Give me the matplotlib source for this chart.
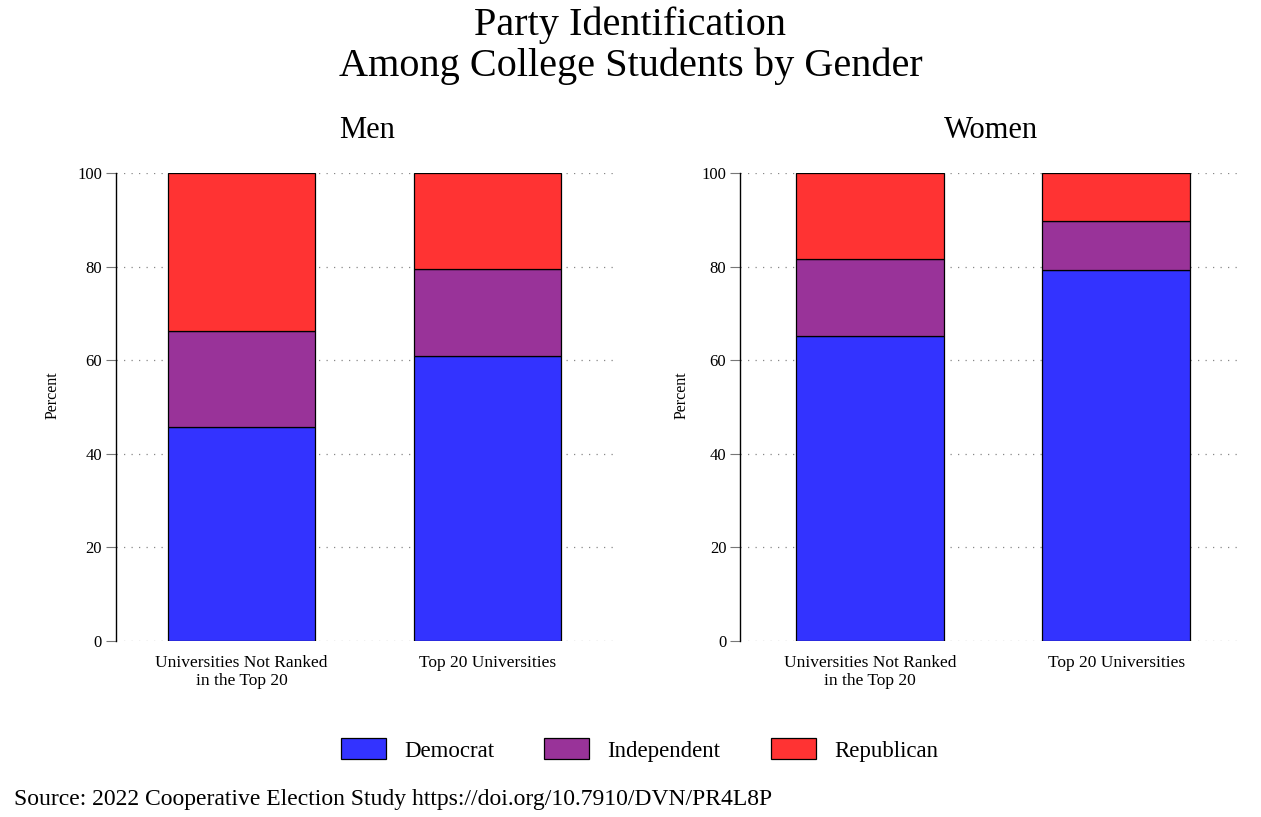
import matplotlib.pyplot as plt
import numpy as np

plt.rcParams['font.family'] = ['Liberation Serif', 'DejaVu Serif']

categories = ['Universities Not Ranked\nin the Top 20', 'Top 20 Universities']
parties = ['Democrat', 'Independent', 'Republican']
colors = ['#3333FF', '#993399', '#FF3333']

men = {
    'Democrat': [45.7, 60.9],
    'Independent': [20.5, 18.6],
    'Republican': [33.8, 20.5],
}
women = {
    'Democrat': [65.2, 79.3],
    'Independent': [16.4, 10.4],
    'Republican': [18.4, 10.3],
}

fig = plt.figure(figsize=(12.61, 8.17), dpi=100)
ax1 = fig.add_axes([0.092, 0.2154, 0.398, 0.5728])
ax2 = fig.add_axes([0.587, 0.2154, 0.398, 0.5728])

x = np.arange(len(categories))
panels = [(ax1, men, 'Men', -0.51, -0.111), (ax2, women, 'Women', -0.528, -0.101)]
for ax, data, title, x0, labx in panels:
    bottom = np.zeros(len(categories))
    for p, c in zip(parties, colors):
        vals = np.array(data[p])
        ax.bar(x, vals, 0.6, bottom=bottom, color=c, edgecolor='black',
               linewidth=0.9, label=p, zorder=3)
        bottom += vals
    ax.set_xlim(x0, x0 + 2.04)
    ax.set_ylim(0, 100)
    ax.set_yticks([0, 20, 40, 60, 80, 100])
    ax.yaxis.grid(True, linestyle=(0, (1, 5)), color='#888888', linewidth=0.9)
    ax.set_axisbelow(True)
    ax.set_xticks(x)
    ax.set_xticklabels(categories, fontsize=12.5, linespacing=1.15)
    ax.tick_params(axis='x', length=0, pad=10)
    ax.tick_params(axis='y', length=7, color='#777777', labelsize=12, pad=3)
    for s in ['top', 'right', 'bottom']:
        ax.spines[s].set_visible(False)
    ax.spines['left'].set_linewidth(1.0)
    ax.set_ylabel('Percent', fontsize=11.5)
    ax.yaxis.set_label_coords(labx, 0.526)
    ax.set_title(title, fontsize=22, pad=25)

fig.suptitle('Party Identification\nAmong College Students by Gender',
             fontsize=29, y=0.992, linespacing=1.12)

handles, labels = ax1.get_legend_handles_labels()
fig.legend(handles, labels, loc='center', bbox_to_anchor=(0.507, 0.082), ncol=3,
           frameon=False, fontsize=16.5, handlelength=1.95, handleheight=1.0,
           columnspacing=2.2, handletextpad=0.8)

fig.text(0.011, 0.021, 'Source: 2022 Cooperative Election Study https://doi.org/10.7910/DVN/PR4L8P',
         fontsize=17, ha='left', va='center')

fig.savefig('out.png', dpi=100)
